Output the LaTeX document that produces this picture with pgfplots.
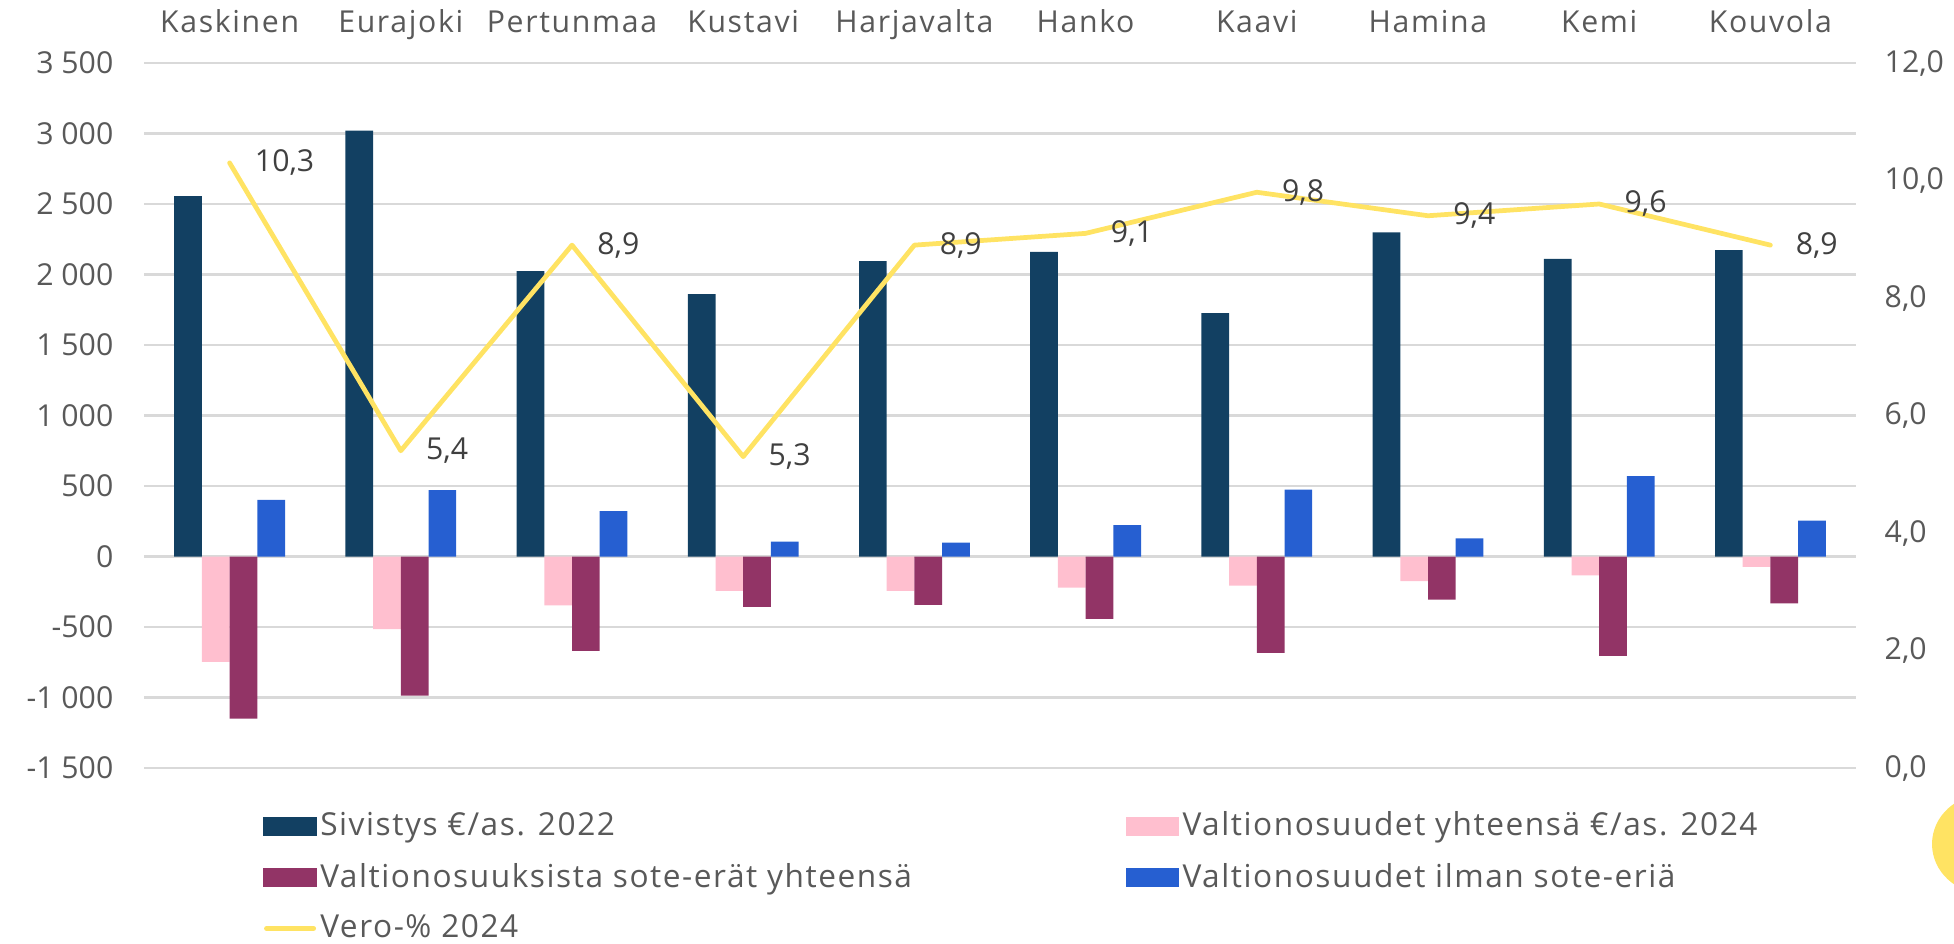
\documentclass[border=0pt]{standalone}
\usepackage{fontspec}
\setmainfont{Open Sans}
\newfontfamily\catfont[LetterSpace=5.5]{Open Sans}
\newfontfamily\legfont[LetterSpace=4.9]{Open Sans}
\usepackage{pgfplots}
\pgfplotsset{compat=1.18}
\definecolor{cnavy}{HTML}{124062}
\definecolor{cpink}{HTML}{FFBFCF}
\definecolor{cpurple}{HTML}{923466}
\definecolor{cblue}{HTML}{265FD1}
\definecolor{cyellow}{HTML}{FFE363}
\definecolor{cgrid}{HTML}{D9D9D9}
\definecolor{ctext}{HTML}{595959}
\definecolor{clabel}{HTML}{404040}
\newcommand\cf{\fontsize{8.6pt}{10pt}\selectfont}
\newcommand\catf{\catfont\fontsize{8.6pt}{10pt}\selectfont}
\newcommand\legf{\legfont\fontsize{9.0pt}{10.5pt}\selectfont}
\begin{document}
\begin{tikzpicture}[x=1cm,y=1cm]
\path[use as bounding box] (0,0) rectangle (19.54,9.43);
\begin{scope}
\clip (0,0) rectangle (19.54,9.43);
\fill[cyellow] (19.86,0.99) ellipse (0.54 and 0.50);
\end{scope}
\begin{axis}[
  at={(1.44cm,1.75cm)}, anchor=south west,
  scale only axis, width=17.12cm, height=7.05cm,
  xmin=-0.5, xmax=9.5, ymin=-1500, ymax=3500,
  ybar=0pt, bar width=0.277cm,
  axis line style={draw=none}, major tick length=0pt,
  xtick={0,...,9},
  xticklabels={Kaskinen,Eurajoki,Pertunmaa,Kustavi,Harjavalta,Hanko,Kaavi,Hamina,Kemi,Kouvola},
  xticklabel pos=upper,
  xticklabel style={anchor=base, yshift=0.30cm, inner sep=0pt, font=\catf, text=ctext},
  ytick={-1500,-1000,-500,0,500,1000,1500,2000,2500,3000,3500},
  yticklabels={-1 500,-1 000,-500,0,500,1 000,1 500,2 000,2 500,3 000,3 500},
  yticklabel style={anchor=east, inner sep=0pt, xshift=-0.30cm, font=\cf, text=ctext},
  ymajorgrids, grid style={cgrid, line width=0.6pt},
]
\addplot[fill=cnavy, draw=none] coordinates {(0,2555) (1,3021) (2,2024) (3,1860) (4,2094) (5,2160) (6,1726) (7,2298) (8,2111) (9,2172)};
\addplot[fill=cpink, draw=none] coordinates {(0,-747) (1,-515) (2,-347) (3,-244) (4,-244) (5,-220) (6,-206) (7,-175) (8,-133) (9,-74)};
\addplot[fill=cpurple, draw=none] coordinates {(0,-1149) (1,-986) (2,-669) (3,-357) (4,-343) (5,-442) (6,-683) (7,-305) (8,-705) (9,-333)};
\addplot[fill=cblue, draw=none] coordinates {(0,402) (1,471) (2,322) (3,106) (4,99) (5,222) (6,475) (7,128) (8,570) (9,255)};
\end{axis}
\begin{axis}[
  at={(1.44cm,1.75cm)}, anchor=south west,
  scale only axis, width=17.12cm, height=7.05cm,
  xmin=-0.5, xmax=9.5, ymin=0, ymax=12,
  axis x line=none, axis y line*=right,
  axis line style={draw=none}, major tick length=0pt,
  ytick={0,2,4,6,8,10,12},
  yticklabels={{0,0},{2,0},{4,0},{6,0},{8,0},{10,0},{12,0}},
  yticklabel style={anchor=west, inner sep=0pt, xshift=0.28cm, font=\cf, text=ctext},
  legend columns=2,
  legend cell align=left,
  legend style={at={(0.0693,0)}, anchor=north west, yshift=-0.43cm,
    draw=none, fill=none, inner sep=0pt, row sep=0.22cm,
    font=\legf, text=ctext,
    nodes={inner xsep=1pt, inner ysep=0pt},
    /tikz/every even column/.append style={column sep=2.1cm}},
]
\addlegendimage{legend image code/.code={\fill[cnavy] (0cm,-0.085cm) rectangle (0.52cm,0.085cm);}}
\addlegendentry{Sivistys €/as. 2022}
\addlegendimage{legend image code/.code={\fill[cpink] (0cm,-0.085cm) rectangle (0.52cm,0.085cm);}}
\addlegendentry{Valtionosuudet yhteensä €/as. 2024}
\addlegendimage{legend image code/.code={\fill[cpurple] (0cm,-0.085cm) rectangle (0.52cm,0.085cm);}}
\addlegendentry{Valtionosuuksista sote-erät yhteensä}
\addlegendimage{legend image code/.code={\fill[cblue] (0cm,-0.085cm) rectangle (0.52cm,0.085cm);}}
\addlegendentry{Valtionosuudet ilman sote-eriä}
\addplot[cyellow, line width=1.35pt, line join=round, line cap=round, mark=none,
  legend image code/.code={\draw[cyellow, line width=0.05cm, line cap=round] (0.025cm,0cm) -- (0.495cm,0cm);},
  nodes near coords, point meta=explicit symbolic,
  nodes near coords style={anchor=west, xshift=0.23cm, inner sep=0pt, text=clabel, font=\cf}]
  coordinates {(0,10.3) [10,3] (1,5.4) [5,4] (2,8.9) [8,9] (3,5.3) [5,3] (4,8.9) [8,9] (5,9.1) [9,1] (6,9.8) [9,8] (7,9.4) [9,4] (8,9.6) [9,6] (9,8.9) [8,9]};
\addlegendentry{Vero-\% 2024}
\end{axis}
\end{tikzpicture}
\end{document}
